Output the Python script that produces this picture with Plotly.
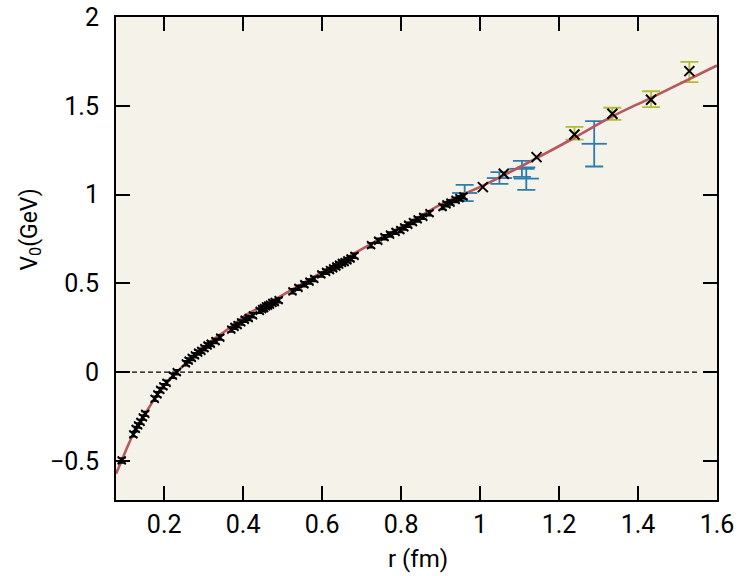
import plotly.graph_objects as go

# ---------------- data ----------------
# smooth fit curve (Cornell-type potential), sampled points
curve_r = [0.078, 0.0925, 0.11, 0.126, 0.147, 0.19, 0.241, 0.30, 0.368, 0.41, 0.469,
           0.563, 0.647, 0.74, 0.817, 0.901, 1.007, 1.143, 1.239, 1.335, 1.433, 1.6]
curve_v = [-0.572, -0.497, -0.405, -0.33, -0.253, -0.103, 0.02, 0.141, 0.253, 0.325, 0.394,
           0.516, 0.625, 0.742, 0.836, 0.945, 1.05, 1.205, 1.32, 1.44, 1.545, 1.727]

# dense lattice points (small crosses with tiny error bars)
lat_r = [0.0925,
         0.122, 0.128, 0.134, 0.140, 0.146, 0.152,
         0.176, 0.183, 0.190, 0.198, 0.206, 0.222, 0.232,
         0.255, 0.262, 0.270, 0.278, 0.286, 0.294, 0.302, 0.310, 0.318, 0.330, 0.342,
         0.370, 0.378, 0.386, 0.395, 0.404, 0.414, 0.425,
         0.442, 0.448, 0.453, 0.458, 0.463, 0.468, 0.474, 0.480, 0.490,
         0.525, 0.540, 0.555, 0.568, 0.580,
         0.598, 0.610, 0.620, 0.628, 0.636, 0.643, 0.650, 0.657, 0.664, 0.672, 0.682,
         0.724, 0.742, 0.758, 0.772, 0.786, 0.798,
         0.808, 0.818, 0.830, 0.842, 0.856, 0.872,
         0.905, 0.915, 0.925, 0.938, 0.948, 0.958]
lat_v = [-0.497,
         -0.35, -0.32, -0.30, -0.28, -0.255, -0.235,
         -0.15, -0.125, -0.10, -0.08, -0.06, -0.02, 0.00,
         0.05, 0.065, 0.08, 0.095, 0.11, 0.12, 0.135, 0.15, 0.16, 0.175, 0.195,
         0.24, 0.255, 0.265, 0.28, 0.295, 0.305, 0.32,
         0.345, 0.355, 0.36, 0.37, 0.375, 0.38, 0.39, 0.395, 0.405,
         0.455, 0.475, 0.495, 0.51, 0.525,
         0.55, 0.565, 0.575, 0.585, 0.595, 0.605, 0.615, 0.62, 0.63, 0.64, 0.655,
         0.715, 0.74, 0.76, 0.775, 0.79, 0.80,
         0.815, 0.83, 0.845, 0.86, 0.875, 0.895,
         0.93, 0.945, 0.955, 0.97, 0.98, 0.99]
lat_err = [0.014] * len(lat_r)

# large-distance points (bigger crosses)
far_r = [1.007, 1.060, 1.143, 1.239, 1.335, 1.433, 1.530]
far_v = [1.042, 1.117, 1.211, 1.338, 1.455, 1.534, 1.695]

# olive error bars
green_r = [1.239, 1.335, 1.433, 1.530]
green_v = [1.345, 1.455, 1.537, 1.690]
green_e = [0.036, 0.034, 0.045, 0.057]

# blue error bars
blue_r = [0.961, 1.049, 1.106, 1.117, 1.289]
blue_v = [1.009, 1.093, 1.145, 1.090, 1.286]
blue_e = [0.046, 0.033, 0.045, 0.063, 0.128]

x_ticks = [0.2, 0.4, 0.6, 0.8, 1.0, 1.2, 1.4, 1.6]
x_labels = ["0.2", "0.4", "0.6", "0.8", "1", "1.2", "1.4", "1.6"]
y_ticks = [-0.5, 0, 0.5, 1, 1.5, 2]
y_labels = ["\u22120.5", "0", "0.5", "1", "1.5", "2"]

# ---------------- figure ----------------
BLUE = "#2B7DAF"
OLIVE = "#B3BC35"
RED = "#B8575C"
FONT = "Roboto"

fig = go.Figure()

fig.add_trace(go.Scatter(
    x=blue_r, y=blue_v, mode="markers",
    marker=dict(symbol="line-ew", size=18, color=BLUE, line=dict(color=BLUE, width=1.8)),
    error_y=dict(type="data", array=blue_e, visible=True, color=BLUE, thickness=1.8, width=9),
    showlegend=False, hoverinfo="skip"))

fig.add_trace(go.Scatter(
    x=green_r, y=green_v, mode="markers",
    marker=dict(size=1, color=OLIVE, opacity=0),
    error_y=dict(type="data", array=green_e, visible=True, color=OLIVE, thickness=1.8, width=9),
    showlegend=False, hoverinfo="skip"))

fig.add_trace(go.Scatter(
    x=curve_r, y=curve_v, mode="lines",
    line=dict(color=RED, width=2.6, shape="spline", smoothing=1.0),
    showlegend=False, hoverinfo="skip"))

fig.add_trace(go.Scatter(
    x=lat_r, y=lat_v, mode="markers",
    marker=dict(symbol="x-thin", size=8, color="black", line=dict(color="black", width=1.8)),
    error_y=dict(type="data", array=lat_err, visible=True, color="black", thickness=1.5, width=4),
    showlegend=False, hoverinfo="skip"))

fig.add_trace(go.Scatter(
    x=far_r, y=far_v, mode="markers",
    marker=dict(symbol="x-thin", size=10, color="black", line=dict(color="black", width=2)),
    showlegend=False, hoverinfo="skip"))

fig.add_shape(type="line", xref="x", yref="y", x0=0.078, x1=1.55, y0=0, y1=0,
              line=dict(color="black", width=1.4, dash="5px,3px"), layer="below")

axis_common = dict(
    showgrid=False, zeroline=False, showline=True, linecolor="black", linewidth=2,
    mirror="allticks", ticks="inside", ticklen=14, tickwidth=2, tickcolor="black",
    tickfont=dict(family=FONT, size=25, color="black"), automargin=False,
)

fig.update_xaxes(range=[0.078, 1.6], tickvals=x_ticks, ticktext=x_labels,
                 ticklabelstandoff=1, **axis_common)
fig.update_yaxes(range=[-0.72, 2.0], tickvals=y_ticks, ticktext=y_labels,
                 ticklabelstandoff=10, **axis_common)

fig.add_annotation(text="r (fm)", xref="paper", yref="paper",
                   x=0.503, y=-0.122, showarrow=False, xanchor="center", yanchor="middle",
                   font=dict(family=FONT, size=24, color="black"))
fig.add_annotation(text="V<sub>0</sub>(GeV)", textangle=-90, xref="paper", yref="paper",
                   x=-0.143, y=0.56, showarrow=False, xanchor="center", yanchor="middle",
                   font=dict(family=FONT, size=23, color="black"))

fig.update_layout(
    width=739, height=576,
    margin=dict(l=116, r=22, t=17, b=76),
    paper_bgcolor="white", plot_bgcolor="#F5F2E9",
    showlegend=False,
)

fig.write_html("out.html", config={"displayModeBar": False},
               post_script="document.body.style.margin='0px';document.body.style.overflow='hidden';")
